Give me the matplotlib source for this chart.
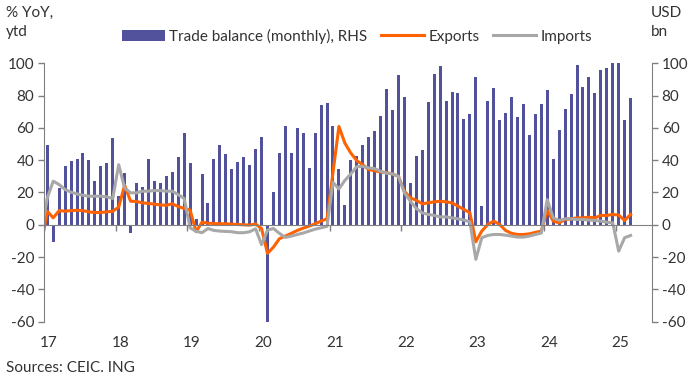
import numpy as np
import matplotlib.pyplot as plt

plt.rcParams['font.family'] = ['Lato', 'DejaVu Sans']
plt.rcParams['axes.unicode_minus'] = False

# trade balance, USD bn, monthly Jan 2017 - Mar 2025
trade_balance = [
    49.2, -10.7, 23.0, 36.6, 39.7, 40.9, 44.7, 40.3, 27.4, 36.6, 38.5, 53.9,
    18.1, 32.3, -5.1, 26.1, 23.7, 40.9, 27.4, 26.1, 30.5, 32.9, 42.2, 57.0,
    38.5, 3.3, 31.7, 13.2, 40.9, 49.6, 44.0, 34.8, 39.1, 42.2, 37.2, 47.1,
    54.5, -60.0, 20.0, 44.7, 61.3, 44.7, 60.1, 57.0, 35.4, 57.0, 74.3, 75.5,
    61.3, 34.8, 12.0, 40.3, 42.8, 49.6, 54.5, 58.2, 67.5, 84.2, 71.2, 92.8,
    79.2, 26.1, 42.8, 46.5, 76.1, 93.4, 98.4, 76.7, 82.3, 81.7, 65.6, 68.7,
    91.6, 11.9, 76.7, 84.8, 65.0, 69.3, 79.2, 66.9, 74.9, 55.8, 68.7, 74.9,
    83.5, 40.9, 58.8, 71.8, 81.1, 99.0, 85.4, 91.6, 81.7, 95.9, 97.1, 100.0,
    100.0, 65.0, 78.6,
]

# % YoY ytd, Dec 2016 - Mar 2025
exports = [
    -12.0,
    8.4, 4.3, 8.8, 8.4, 8.8, 9.0, 8.8, 8.0, 7.6, 7.6, 8.0, 8.4,
    10.9, 24.5, 14.6, 14.4, 13.6, 13.2, 12.8, 12.3, 12.1, 13.0, 11.3, 10.1,
    9.1, -4.3, 1.6, 1.0, 0.8, 0.6, 0.6, 0.4, 0.2, 0.0, -0.2, 0.5,
    -2.3, -17.7, -13.8, -8.6, -7.0, -5.3, -3.5, -2.1, -0.8, 0.6, 2.3, 3.7,
    32.3, 60.9, 50.6, 44.4, 39.7, 37.2, 34.2, 33.5, 32.7, 32.3, 31.5, 30.0,
    20.8, 16.7, 15.2, 13.0, 13.6, 14.2, 14.6, 14.2, 13.6, 11.5, 9.5, 7.4,
    -10.5, -3.9, 0.2, 2.3, 0.2, -3.5, -5.3, -6.0, -6.0, -5.6, -4.7, -3.9,
    9.0, 2.3, 1.2, 3.3, 3.7, 4.3, 4.3, 4.7, 4.3, 5.8, 5.8, 6.4,
    6.0, 2.7, 6.4,
]
imports = [
    -5.0,
    16.7, 27.0, 24.9, 21.8, 20.2, 19.1, 18.3, 17.7, 17.7, 17.7, 17.3, 16.3,
    37.2, 22.8, 19.8, 19.8, 20.8, 20.8, 21.2, 21.2, 20.8, 20.8, 18.7, 16.3,
    -1.9, -4.0, -4.9, -2.3, -3.5, -3.9, -4.1, -4.3, -4.9, -4.9, -4.3, -2.5,
    -12.3, -3.3, -2.3, -5.3, -7.8, -7.0, -6.0, -5.1, -3.9, -2.7, -1.9, -1.0,
    26.3, 22.2, 27.5, 31.5, 36.0, 36.2, 35.2, 34.8, 33.1, 31.9, 31.5, 30.0,
    19.8, 14.6, 10.1, 7.4, 6.4, 5.8, 4.9, 4.9, 4.3, 3.7, 2.9, 1.9,
    -21.4, -8.0, -6.6, -6.0, -6.0, -6.4, -7.0, -7.6, -7.6, -7.0, -6.0, -5.1,
    15.6, 4.3, 2.7, 3.7, 3.7, 3.3, 3.3, 2.9, 2.7, 2.3, 1.6, 1.2,
    -16.3, -8.0, -6.6,
]
year_labels = ['17', '18', '19', '20', '21', '22', '23', '24', '25']

bar_x = np.arange(len(trade_balance))
line_x = np.arange(len(exports)) - 1
year_pos = np.arange(len(year_labels)) * 12

text_color = '#333333'
axis_color = '#808080'

fig = plt.figure(figsize=(6.96, 3.79), dpi=100)
ax = fig.add_axes([0.0632, 0.1512, 0.8736, 0.6818])
ax2 = ax.twinx()
ax.set_zorder(ax2.get_zorder() + 1)
ax.patch.set_visible(False)

bars = ax2.bar(bar_x, trade_balance, width=0.5, color='#52529c',
               label='Trade balance (monthly), RHS')
l1, = ax.plot(line_x, exports, color='#ff6200', lw=2.2,
              solid_joinstyle='round', label='Exports')
l2, = ax.plot(line_x, imports, color='#a8a8a8', lw=2.2,
              solid_joinstyle='round', label='Imports')

for a in (ax, ax2):
    a.set_ylim(-60, 100)
    a.set_yticks(np.arange(-60, 101, 20))
    a.set_xlim(-0.55, 101.6)
    a.tick_params(axis='y', colors=axis_color, labelcolor=text_color,
                  labelsize=11, length=4, width=1, direction='out', pad=3)

ax.spines['top'].set_visible(False)
ax.spines['right'].set_visible(False)
ax.spines['left'].set_color(axis_color)
ax.spines['bottom'].set_position(('data', 0))
ax.spines['bottom'].set_color(axis_color)
for s in ('top', 'left', 'bottom'):
    ax2.spines[s].set_visible(False)
ax2.spines['right'].set_color(axis_color)

ax.set_xticks(year_pos[1:] - 0.5)
ax.tick_params(axis='x', colors=axis_color, length=4, width=1,
               direction='out', labelbottom=False)
for pos, lab in zip(year_pos, year_labels):
    ax.text(pos + 0.3, -0.083, lab, transform=ax.get_xaxis_transform(),
            ha='center', va='center', fontsize=11, color=text_color)

fig.text(0.008, 0.985, '% YoY,\nytd', ha='left', va='top', fontsize=11,
         color=text_color, linespacing=1.5)
fig.text(0.935, 0.985, 'USD\nbn', ha='left', va='top', fontsize=11,
         color=text_color, linespacing=1.5)
fig.text(0.008, 1 - 368 / 379, 'Sources: CEIC. ING', ha='left',
         va='center', fontsize=11, color=text_color)

fig.legend(handles=[bars, l1, l2], loc='center', ncol=3,
           bbox_to_anchor=(0.513, 0.905), frameon=False, fontsize=11,
           handlelength=2.8, handletextpad=0.3, columnspacing=0.9,
           labelcolor=text_color)

fig.savefig('out.png', dpi=100)
